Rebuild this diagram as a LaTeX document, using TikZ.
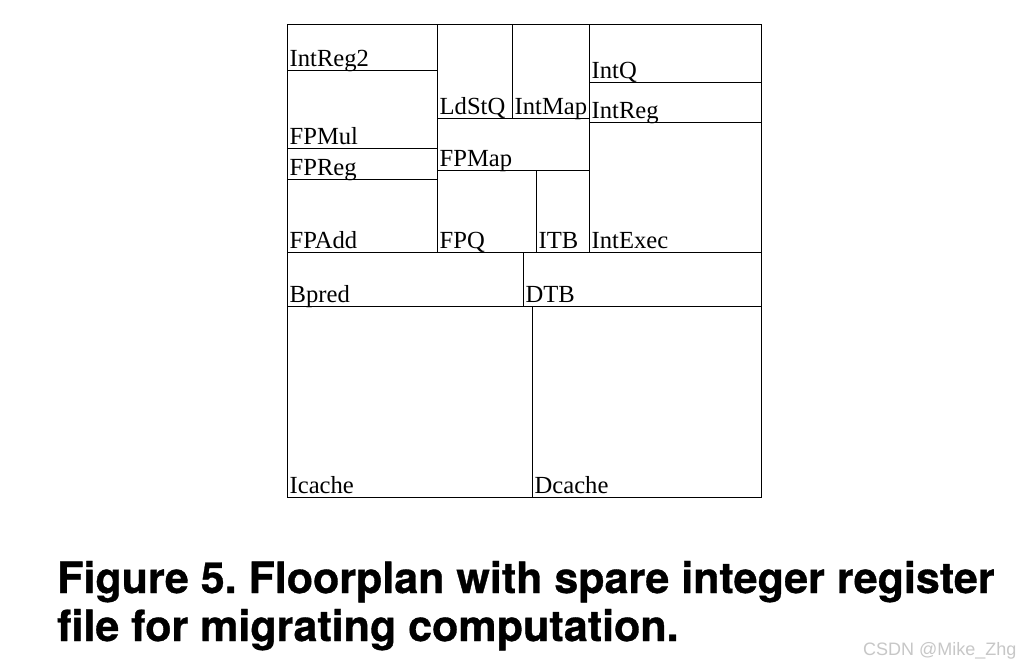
\documentclass[tikz,border=0pt]{standalone}
\usepackage{fontspec}
\setmainfont{Liberation Serif}
\newfontfamily\capfont[FakeBold=0.8]{TeX Gyre Heros Bold}
\newfontfamily\wmfont{Liberation Sans}
\frenchspacing
\begin{document}
\begin{tikzpicture}[x=1pt,y=-1pt,
  blockline/.style={draw=black,line width=1pt},
  lbl/.style={anchor=base west,inner sep=0pt,font=\fontsize{24.6}{28}\selectfont},
  caption/.style={anchor=base west,inner sep=0pt,font=\capfont\fontsize{43}{48}\selectfont},
  watermark/.style={anchor=base west,inner sep=0pt,text=black!22,font=\wmfont\fontsize{18}{20}\selectfont}]
\useasboundingbox[fill=white] (0,0) rectangle (1021,667);
% blocks: x0,y0,x1,y1,name,text
\newcommand{\blk}[6]{%
  \draw[blockline] (#1,#2) rectangle (#3,#4);
  \node[lbl] (#5) at (#1+2.5,#4-3.5) {#6};}
\blk{287}{24}{437}{70}{intregtwo}{IntReg2}
\blk{287}{70}{437}{148}{fpmul}{FPMul}
\blk{287}{148}{437}{179}{fpreg}{FPReg}
\blk{287}{179}{437}{252}{fpadd}{FPAdd}
\blk{437}{24}{512}{118}{ldstq}{LdStQ}
\blk{512}{24}{589}{118}{intmap}{IntMap}
\blk{437}{118}{589}{170}{fpmap}{FPMap}
\blk{437}{170}{536}{252}{fpq}{FPQ}
\blk{536}{170}{589}{252}{itb}{ITB}
\blk{589}{24}{761}{82}{intq}{IntQ}
\blk{589}{82}{761}{122}{intreg}{IntReg}
\blk{589}{122}{761}{252}{intexec}{IntExec}
\blk{287}{252}{523}{306}{bpred}{Bpred}
\blk{523}{252}{761}{306}{dtb}{DTB}
\blk{287}{306}{532}{497}{icache}{Icache}
\blk{532}{306}{761}{497}{dcache}{Dcache}
\node[caption] (cap1) at (57,593) {Figure 5. Floorplan with spare integer register};
\node[caption] (cap2) at (57,641) {file for migrating computation.};
\node[watermark] (wm) at (863,655) {CSDN @Mike\_Zhg};
\end{tikzpicture}
\end{document}
